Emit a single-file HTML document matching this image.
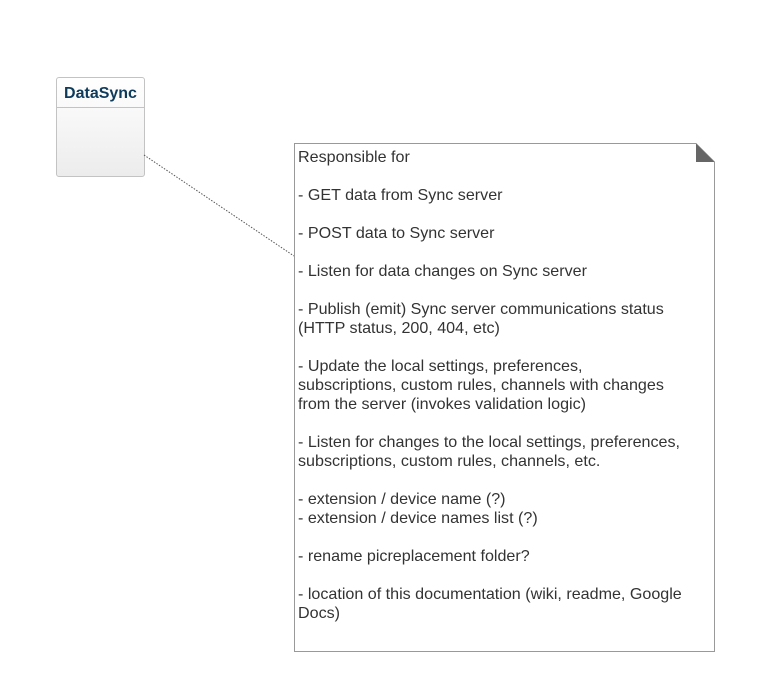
<!DOCTYPE html>
<html><head><style>
body{margin:0;width:757px;height:679px;background:#fff;position:relative;overflow:hidden;font-family:"Liberation Sans",Arial,sans-serif}
.cls{position:absolute;left:56px;top:77px;width:87px;height:98px;border:1px solid #c3c3c3;border-radius:3px;background:linear-gradient(#fff,#ececec)}
.cls .h{height:29px;border-bottom:1px solid #c3c3c3;text-align:center;font-weight:bold;font-size:16px;color:#0e3a5c;line-height:32px}
.note{position:absolute;left:298px;top:148px;width:420px;font-size:16.1px;line-height:19px;color:#333;white-space:nowrap}
</style></head><body>
<div class="cls"><div class="h">DataSync</div></div>
<svg width="757" height="679" style="position:absolute;left:0;top:0">
<line x1="144" y1="155" x2="294" y2="256" stroke="#555" stroke-width="1" stroke-dasharray="1.5,1.5"/>
<path d="M294.5 143.5 H696 L714.5 162 V651.5 H294.5 Z" fill="#fff" stroke="#999"/>
<path d="M696 143.5 L714.5 162 H696 Z" fill="#666"/>
</svg>
<div class="note">Responsible for<br><br>- GET data from Sync server<br><br>- POST data to Sync server<br><br>- Listen for data changes on Sync server<br><br>- Publish (emit) Sync server communications status<br>(HTTP status, 200, 404, etc)<br><br>- Update the local settings, preferences,<br>subscriptions, custom rules, channels with changes<br>from the server (invokes validation logic)<br><br>- Listen for changes to the local settings, preferences,<br>subscriptions, custom rules, channels, etc.<br><br>- extension / device name (?)<br>- extension / device names list (?)<br><br>- rename picreplacement folder?<br><br>- location of this documentation (wiki, readme, Google<br>Docs)</div>
</body></html>
